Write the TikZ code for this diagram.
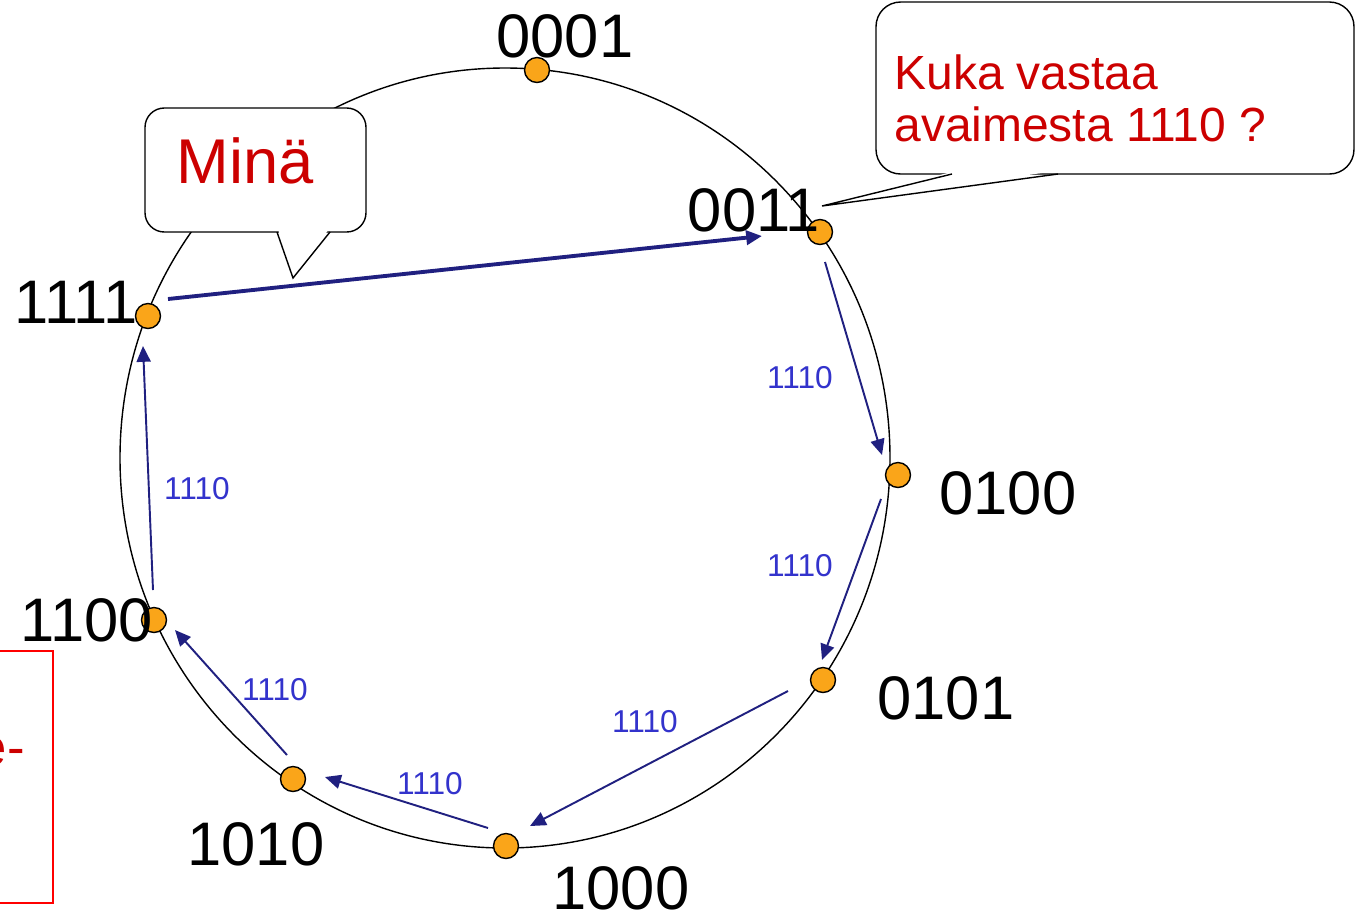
\documentclass[tikz,border=0pt]{standalone}
\usepackage{fontspec}
\setmainfont{Liberation Sans}
\usepackage{tikz}
\usetikzlibrary{arrows.meta}
\definecolor{peerorange}{RGB}{250,165,25}
\definecolor{hopnavy}{RGB}{32,32,128}
\definecolor{keyblue}{RGB}{51,51,204}
\definecolor{saydred}{RGB}{204,0,0}
\tikzstyle{peer}=[circle, draw, line width=0.8pt, fill=peerorange, inner sep=0pt, minimum size=0.5cm]
\tikzstyle{peerid}=[inner sep=0pt, font=\fontsize{35}{40}\selectfont]
\tikzstyle{keylabel}=[inner sep=0pt, text=keyblue, font=\fontsize{18}{20}\selectfont]
\tikzstyle{hop}=[draw=hopnavy, line width=1.1pt, -{Triangle[length=9pt,width=8pt]}]
\tikzstyle{bubble}=[draw, line width=0.8pt, fill=white]
\begin{document}
\begin{tikzpicture}[x=0.02cm, y=-0.02cm]
        \useasboundingbox (0,0) rectangle (1356,921);
        \clip (0,0) rectangle (1356,921);
        % the ring
        \draw[line width=0.8pt] (505,458) ellipse (385 and 390);

        % speech bubbles
        \draw[bubble, rounded corners=11pt] (145,108) rectangle (366,232);
        \fill[white] (278,229) -- (293,277) -- (329,229) -- cycle;
        \draw[line width=0.8pt] (277,232) -- (293,278) -- (330,232);
        \node[anchor=base, text=saydred, inner sep=0pt, font=\fontsize{36}{40}\selectfont] (mina) at (245,183) {Minä};

        \draw[bubble, rounded corners=14pt] (876,2) rectangle (1354,174);
        \fill[white] (955,171) -- (826,205) -- (1055,171) -- cycle;
        \draw[line width=0.8pt] (952,174) -- (822,206) -- (1058,174);
        \node[anchor=north west, align=left, text=saydred, inner sep=0pt, font=\fontsize{27.3}{30}\selectfont] (kuka) at (894,54) {Kuka vastaa\\avaimesta 1110 ?};

        % red box at the left edge
        \draw[red, line width=0.9pt] (-5,651) rectangle (53,903);
        \node[anchor=base east, text=saydred, inner sep=0pt, font=\fontsize{30}{34}\selectfont] (cut) at (25,765) {e-};

        % peers
        \node[peer] (p0001) at (537,70) {};
        \node[peer] (p0011) at (820,232) {};
        \node[peer] (p0100) at (898,475) {};
        \node[peer] (p0101) at (823,680) {};
        \node[peer] (p1000) at (506,846) {};
        \node[peer] (p1010) at (293,779) {};
        \node[peer] (p1100) at (154,620) {};
        \node[peer] (p1111) at (148,316) {};

        \node[peerid] (l0001) at (565,36) {0001};
        \node[peerid] (l0011) at (754,210) {0011};
        \node[peerid] (l0100) at (1008,493) {0100};
        \node[peerid] (l0101) at (946,698) {0101};
        \node[peerid] (l1000) at (621,888) {1000};
        \node[peerid] (l1010) at (256,844) {1010};
        \node[peerid] (l1100) at (87,620) {1100};
        \node[peerid] (l1111) at (76,302) {1111};

        % lookup of key 1110
        \draw[hop, line width=2.2pt] ([shift={(20,-17)}]p1111.center) -- ([shift={(-58,4)}]p0011.center);
        \draw[hop] ([shift={(5,30)}]p0011.center) -- ([shift={(-16,-20)}]p0100.center);
        \draw[hop] ([shift={(-17,24)}]p0100.center) -- ([shift={(-1,-20)}]p0101.center);
        \draw[hop] ([shift={(-35,11)}]p0101.center) -- ([shift={(24,-20)}]p1000.center);
        \draw[hop] ([shift={(-18,-18)}]p1000.center) -- ([shift={(32,-2)}]p1010.center);
        \draw[hop] ([shift={(-6,-24)}]p1010.center) -- ([shift={(21,10)}]p1100.center);
        \draw[hop] ([shift={(-1,-30)}]p1100.center) -- ([shift={(-5,30)}]p1111.center);

        \node[keylabel] (k1) at (800,378) {1110};
        \node[keylabel] (k2) at (800,566) {1110};
        \node[keylabel] (k3) at (645,722) {1110};
        \node[keylabel] (k4) at (430,784) {1110};
        \node[keylabel] (k5) at (275,690) {1110};
        \node[keylabel] (k6) at (197,489) {1110};
\end{tikzpicture}
\end{document}
